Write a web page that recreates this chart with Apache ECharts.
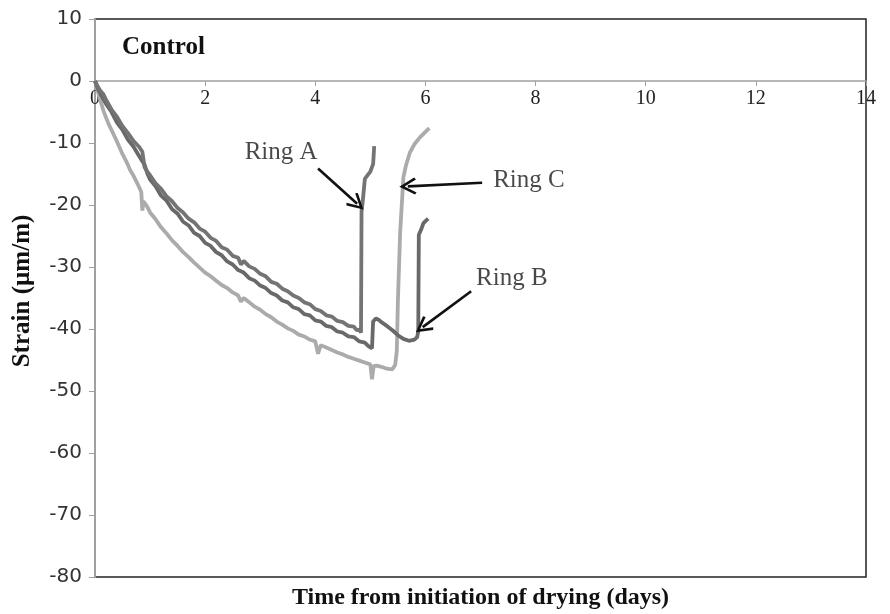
<!DOCTYPE html>
<html>
<head>
<meta charset="utf-8">
<script src="https://cdn.jsdelivr.net/npm/echarts@6/dist/echarts.min.js"></script>
<style>
html,body{margin:0;padding:0;background:#fff;}
#chart{width:890px;height:614px;}
</style>
</head>
<body>
<div id="chart"></div>
<script>
// ---- data (days, strain µm/m) ----
const xTicks = [0, 2, 4, 6, 8, 10, 12, 14];
const yTicks = [10, 0, -10, -20, -30, -40, -50, -60, -70, -80];

const ringA = [[0,0],[0.05,-0.9],[0.1,-1.6],[0.15,-2.1],[0.2,-3.0],[0.3,-4.6],[0.4,-5.8],[0.5,-7.3],[0.6,-8.4],[0.7,-9.7],[0.8,-10.6],[0.86,-11.4],[0.9,-13.9],[0.95,-14.6],[1.0,-15.2],[1.1,-16.5],[1.2,-17.4],[1.3,-18.6],[1.4,-19.4],[1.5,-20.5],[1.6,-21.2],[1.7,-22.2],[1.8,-22.8],[1.9,-23.8],[2.0,-24.3],[2.1,-25.3],[2.2,-25.8],[2.3,-26.8],[2.4,-27.2],[2.5,-28.2],[2.6,-28.5],[2.65,-29.6],[2.7,-29.0],[2.8,-29.9],[2.9,-30.3],[3.0,-31.1],[3.1,-31.5],[3.2,-32.4],[3.3,-32.7],[3.4,-33.5],[3.5,-33.9],[3.6,-34.6],[3.7,-35.0],[3.8,-35.7],[3.9,-36.0],[4.0,-36.8],[4.1,-37.1],[4.2,-37.8],[4.3,-38.0],[4.4,-38.7],[4.5,-38.9],[4.6,-39.5],[4.7,-39.6],[4.75,-40.2],[4.8,-40.1],[4.83,-40.6],[4.84,-21.0],[4.86,-19.6],[4.9,-15.8],[4.95,-15.2],[5.0,-14.6],[5.05,-13.4],[5.06,-12.0],[5.07,-10.5]];

const ringB = [[0,0],[0.05,-1.2],[0.1,-2.1],[0.2,-3.7],[0.3,-5.0],[0.4,-6.7],[0.5,-7.9],[0.6,-9.5],[0.7,-10.6],[0.8,-12.1],[0.9,-13.5],[0.95,-14.9],[1.0,-15.9],[1.1,-17.0],[1.2,-18.5],[1.3,-19.3],[1.4,-20.7],[1.5,-21.4],[1.6,-22.7],[1.7,-23.3],[1.8,-24.5],[1.9,-25.0],[2.0,-26.1],[2.1,-26.6],[2.2,-27.6],[2.3,-28.1],[2.4,-29.1],[2.5,-29.6],[2.6,-30.5],[2.7,-30.9],[2.8,-31.8],[2.9,-32.2],[3.0,-33.0],[3.1,-33.4],[3.2,-34.2],[3.3,-34.6],[3.4,-35.4],[3.5,-35.7],[3.6,-36.5],[3.7,-36.8],[3.8,-37.6],[3.9,-37.8],[4.0,-38.6],[4.1,-38.8],[4.2,-39.5],[4.3,-39.7],[4.4,-40.4],[4.5,-40.6],[4.6,-41.2],[4.7,-41.3],[4.8,-42.0],[4.9,-42.2],[4.97,-42.8],[5.03,-43.1],[5.05,-38.8],[5.1,-38.3],[5.15,-38.5],[5.2,-38.9],[5.3,-39.5],[5.4,-40.2],[5.5,-41.0],[5.6,-41.6],[5.7,-41.9],[5.8,-41.7],[5.85,-41.3],[5.87,-40.4],[5.88,-24.8],[5.92,-24.0],[5.96,-23.0],[6.0,-22.6],[6.05,-22.2]];

const ringC = [[0,0],[0.05,-1.6],[0.1,-3.2],[0.15,-4.7],[0.2,-5.9],[0.25,-7.0],[0.3,-7.9],[0.39,-9.6],[0.45,-10.8],[0.5,-11.8],[0.57,-13.0],[0.64,-14.4],[0.7,-15.3],[0.75,-16.2],[0.8,-17.1],[0.84,-17.9],[0.86,-20.9],[0.88,-19.4],[0.95,-20.3],[1.0,-21.2],[1.1,-22.3],[1.2,-23.6],[1.3,-24.6],[1.4,-25.7],[1.5,-26.6],[1.6,-27.6],[1.7,-28.4],[1.8,-29.3],[1.9,-30.1],[2.0,-30.9],[2.1,-31.5],[2.2,-32.2],[2.3,-32.9],[2.4,-33.4],[2.5,-34.1],[2.6,-34.6],[2.65,-35.6],[2.7,-35.0],[2.8,-35.7],[2.9,-36.4],[3.0,-36.9],[3.1,-37.6],[3.2,-38.1],[3.3,-38.8],[3.4,-39.3],[3.5,-39.9],[3.6,-40.3],[3.7,-40.9],[3.8,-41.2],[3.9,-41.7],[4.0,-42.0],[4.05,-44.0],[4.1,-42.6],[4.2,-43.0],[4.3,-43.4],[4.4,-43.8],[4.5,-44.1],[4.6,-44.5],[4.7,-44.8],[4.8,-45.1],[4.9,-45.4],[5.0,-45.7],[5.03,-48.1],[5.06,-46.0],[5.12,-45.9],[5.2,-46.1],[5.3,-46.4],[5.4,-46.5],[5.45,-45.8],[5.48,-43.6],[5.5,-35.5],[5.54,-24.6],[5.6,-15.5],[5.65,-13.5],[5.72,-11.5],[5.8,-10.2],[5.9,-9.1],[6.0,-8.2],[6.07,-7.6]];

// annotation labels and arrows, in data coordinates
const annotationNames = ['Ring A', 'Ring C', 'Ring B'];
const annotationTextAt = [[3.38, -11.6], [7.88, -16.0], [7.57, -31.8]];
const arrowFrom = [[4.05, -14.1], [7.03, -16.4], [6.83, -33.9]];
const arrowTo = [[4.76, -19.8], [5.68, -17.0], [5.95, -39.7]];

// ---- chart ----
const W = 890, H = 614;
const gridBox = {left: 95, right: 24, top: 19, bottom: 37};
const yMin = yTicks[yTicks.length - 1], yMax = yTicks[0];
// x axis sits on the zero line: shift it up from the grid bottom
const plotH = H - gridBox.top - gridBox.bottom;
const zeroOffset = -plotH * (0 - yMin) / (yMax - yMin);

const chart = echarts.init(document.getElementById('chart'), null, {renderer: 'canvas', width: W, height: H});
const serif = 'Liberation Serif';
const chevron = 'path://M5,0 L10,8.6 L8.8,9.6 L5,3 L1.2,9.6 L0,8.6 Z';

const option = {
  backgroundColor: '#ffffff',
  animation: false,
  title: {
    text: 'Control', left: 122, top: 35, padding: 0,
    textStyle: {fontFamily: serif, fontWeight: 'bold', fontSize: 25, color: '#111'}
  },
  grid: Object.assign({show: true, borderColor: '#222', borderWidth: 1.5, backgroundColor: '#fff',
                       containLabel: false, outerBoundsMode: 'none'}, gridBox),
  xAxis: [{
    type: 'value', min: xTicks[0], max: xTicks[xTicks.length - 1], interval: 2,
    position: 'bottom', offset: zeroOffset,
    axisLine: {onZero: false, lineStyle: {color: '#a0a0a0', width: 1.5}},
    axisTick: {show: true, length: 5, lineStyle: {color: '#a0a0a0'}},
    axisLabel: {fontFamily: serif, fontSize: 20, color: '#222', margin: 8},
    splitLine: {show: false}
  }, {
    type: 'value', min: xTicks[0], max: xTicks[xTicks.length - 1], position: 'bottom',
    axisLine: {show: false, onZero: false}, axisTick: {show: false}, axisLabel: {show: false}, splitLine: {show: false},
    name: 'Time from initiation of drying (days)', nameLocation: 'middle', nameGap: 9,
    nameTextStyle: {fontFamily: serif, fontWeight: 'bold', fontSize: 24, color: '#111'}
  }],
  yAxis: {
    type: 'value', min: yMin, max: yMax, interval: 10,
    axisLine: {show: true, onZero: false, lineStyle: {color: '#a0a0a0', width: 2}},
    axisTick: {show: true, length: 6, lineStyle: {color: '#a0a0a0'}},
    axisLabel: {fontFamily: 'DejaVu Sans', fontSize: 20, color: '#333', margin: 13},
    splitLine: {show: false},
    name: 'Strain (µm/m)', nameLocation: 'middle', nameGap: 60,
    nameTextStyle: {fontFamily: serif, fontWeight: 'bold', fontSize: 25, color: '#111', padding: [0, 0, 0, 14]}
  },
  series: [
    {name: 'Ring C', type: 'line', data: ringC, showSymbol: false, symbol: 'none',
     lineStyle: {color: '#ababab', width: 3.8}, z: 2},
    {name: 'Ring B', type: 'line', data: ringB, showSymbol: false, symbol: 'none',
     lineStyle: {color: '#696969', width: 3.8}, z: 3},
    {name: 'Ring A', type: 'line', data: ringA, showSymbol: false, symbol: 'none',
     lineStyle: {color: '#747474', width: 3.8}, z: 4},
    {name: 'arrows', type: 'lines', coordinateSystem: 'cartesian2d', z: 5,
     symbol: ['none', chevron], symbolSize: 17,
     lineStyle: {color: '#111', width: 2.6, opacity: 1},
     data: arrowFrom.map((p, i) => ({coords: [p, arrowTo[i]]}))},
    {name: 'labels', type: 'scatter', z: 6, symbolSize: 1,
     itemStyle: {color: 'rgba(0,0,0,0)'},
     label: {show: true, position: 'inside', formatter: p => p.data[2],
             fontFamily: serif, fontSize: 25, color: '#1a1a1a'},
     data: annotationTextAt.map((p, i) => [p[0], p[1], annotationNames[i]])}
  ]
};
chart.setOption(option);
</script>
</body>
</html>
